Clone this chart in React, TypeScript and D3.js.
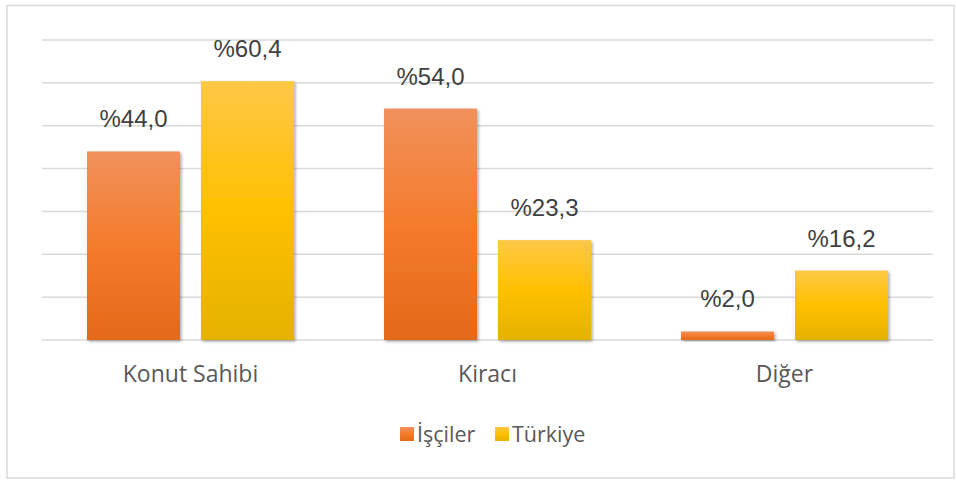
import React from "react";
import * as d3 from "d3";

const categories = ["Konut Sahibi", "Kiracı", "Diğer"];
const seriesNames = ["İşçiler", "Türkiye"];
const isciler = [44.0, 54.0, 2.0];
const turkiye = [60.4, 23.3, 16.2];
const yTicks = [0, 10, 20, 30, 40, 50, 60, 70];

const W = 956;
const H = 480;
const plot = { left: 42, right: 933, top: 40, bottom: 340 };

const gradients = [
  { id: "gOrange", stops: ["#F0915C", "#F47B2C", "#E3691A"] },
  { id: "gYellow", stops: ["#FFC846", "#FFC000", "#E4B200"] },
];

function fmt(v: number) {
  return "%" + v.toFixed(1).replace(".", ",");
}

export default function App() {
  const x0 = d3.scaleBand<string>().domain(categories).range([plot.left, plot.right]).padding(0);
  const bw = x0.bandwidth();
  const x1 = d3
    .scaleBand<string>()
    .domain(seriesNames)
    .range([bw * 0.1515, bw * 0.8485])
    .paddingInner(0.184);
  const y = d3.scaleLinear().domain([0, 70]).range([plot.bottom, plot.top]);
  const series = [isciler, turkiye];

  return (
    <svg
      width={W}
      height={H}
      style={{ position: "absolute", left: 0, top: 0, background: "#fff" }}
    >
      <defs>
        {gradients.map((g) => (
          <linearGradient key={g.id} id={g.id} x1="0" y1="0" x2="0" y2="1">
            <stop offset="0" stopColor={g.stops[0]} />
            <stop offset="0.5" stopColor={g.stops[1]} />
            <stop offset="1" stopColor={g.stops[2]} />
          </linearGradient>
        ))}
        <filter id="shadow" x="-10%" y="-10%" width="130%" height="130%">
          <feDropShadow dx="1.5" dy="1.5" stdDeviation="1.5" floodColor="#000" floodOpacity="0.35" />
        </filter>
      </defs>
      <rect x={7} y={5.5} width={947} height={472.5} fill="none" stroke="#d9d9d9" strokeWidth={1.5} />
      {yTicks.map((t) => (
        <line
          key={t}
          x1={plot.left}
          x2={plot.right}
          y1={y(t)}
          y2={y(t)}
          stroke="#d9d9d9"
          strokeWidth={1.5}
        />
      ))}
      {categories.map((c, i) => (
        <g key={c} transform={`translate(${x0(c)},0)`}>
          {seriesNames.map((s, j) => {
            const v = series[j][i];
            const bx = x1(s)!;
            return (
              <g key={s}>
                <rect
                  x={bx}
                  y={y(v)}
                  width={x1.bandwidth()}
                  height={y(0) - y(v)}
                  fill={`url(#${gradients[j].id})`}
                  filter="url(#shadow)"
                />
                <text
                  x={bx + x1.bandwidth() / 2}
                  y={y(v) - 24}
                  textAnchor="middle"
                  fontFamily="'Liberation Sans', Arial, sans-serif"
                  fontSize={24}
                  fill="#404040"
                >
                  {fmt(v)}
                </text>
              </g>
            );
          })}
          <text
            x={bw / 2}
            y={382}
            textAnchor="middle"
            fontFamily="'Open Sans', sans-serif"
            fontSize={23}
            fill="#595959"
          >
            {c}
          </text>
        </g>
      ))}
      {seriesNames.map((s, j) => {
        const lx = [400, 495][j];
        return (
          <g key={s}>
            <rect x={lx} y={427} width={14} height={14} fill={`url(#${gradients[j].id})`} />
            <text
              x={lx + 17}
              y={442}
              fontFamily="'Open Sans', sans-serif"
              fontSize={21.5}
              fill="#595959"
            >
              {s}
            </text>
          </g>
        );
      })}
    </svg>
  );
}
